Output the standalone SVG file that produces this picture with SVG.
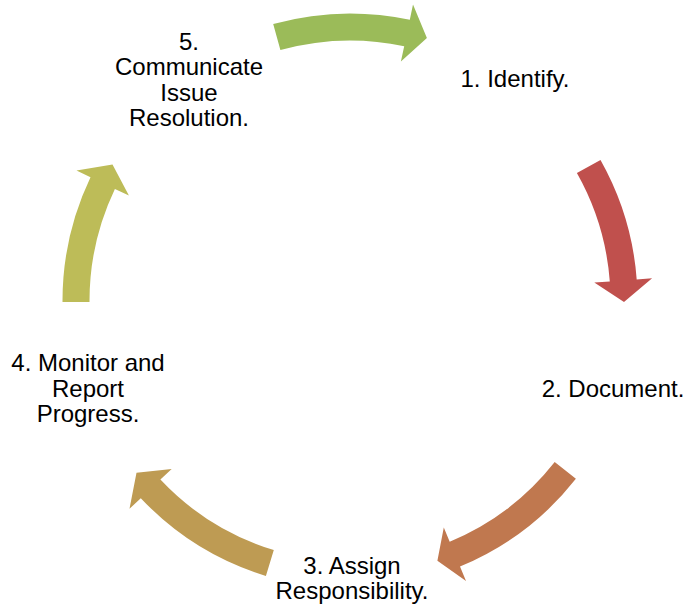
<svg xmlns="http://www.w3.org/2000/svg" width="686" height="606" viewBox="0 0 686 606">
  <style>
    .lbl { font-family: "Liberation Sans", Arial, sans-serif; font-size: 24px; fill: #000000; text-anchor: middle; }
    .arrow { stroke: none; }
  </style>
  <rect width="686" height="606" fill="#ffffff"/>

  <!-- curved arrows around the cycle, centre (350,301), r = 274 -->
  <g id="connectors">
    <path id="arrow-5-1" class="arrow" fill="#9BBB59"
      d="M 273.2 24.0 A 287.5 287.5 0 0 1 409.8 19.8 L 413.0 4.6 L 426.9 38.0 L 400.9 61.4 L 404.2 46.2 A 260.5 260.5 0 0 0 280.4 50.0 Z"/>
    <path id="arrow-1-2" class="arrow" fill="#C0504D"
      d="M 600.5 159.9 A 287.5 287.5 0 0 1 636.7 279.4 L 652.1 278.3 L 624.0 302.0 L 594.3 282.6 L 609.8 281.5 A 260.5 260.5 0 0 0 576.9 173.1 Z"/>
    <path id="arrow-2-3" class="arrow" fill="#C0784F"
      d="M 575.9 478.8 A 287.5 287.5 0 0 1 460.0 566.6 L 466.0 580.9 L 437.4 560.7 L 443.8 527.4 L 449.7 541.7 A 260.5 260.5 0 0 0 554.7 462.1 Z"/>
    <path id="arrow-3-4" class="arrow" fill="#BE9B53"
      d="M 265.9 575.9 A 287.5 287.5 0 0 1 140.8 498.2 L 129.5 508.8 L 136.5 472.7 L 171.7 469.0 L 160.4 479.6 A 260.5 260.5 0 0 0 273.8 550.1 Z"/>
    <path id="arrow-4-5" class="arrow" fill="#BDBC58"
      d="M 62.5 302.0 A 287.5 287.5 0 0 1 90.5 177.2 L 76.5 170.6 L 112.5 164.4 L 128.9 195.5 L 114.9 188.9 A 260.5 260.5 0 0 0 89.5 301.9 Z"/>
  </g>

  <g id="node-1">
    <text class="lbl" x="515" y="86.5">1. Identify.</text>
  </g>
  <g id="node-2">
    <text class="lbl" x="613" y="397">2. Document.</text>
  </g>
  <g id="node-3">
    <text class="lbl" x="352" y="573.5">3. Assign</text>
    <text class="lbl" x="352" y="599">Responsibility.</text>
  </g>
  <g id="node-4">
    <text class="lbl" x="88" y="371">4. Monitor and</text>
    <text class="lbl" x="88" y="396.5">Report</text>
    <text class="lbl" x="88" y="422">Progress.</text>
  </g>
  <g id="node-5">
    <text class="lbl" x="189" y="49.5">5.</text>
    <text class="lbl" x="189" y="75">Communicate</text>
    <text class="lbl" x="189" y="100.5">Issue</text>
    <text class="lbl" x="189" y="126">Resolution.</text>
  </g>
</svg>
